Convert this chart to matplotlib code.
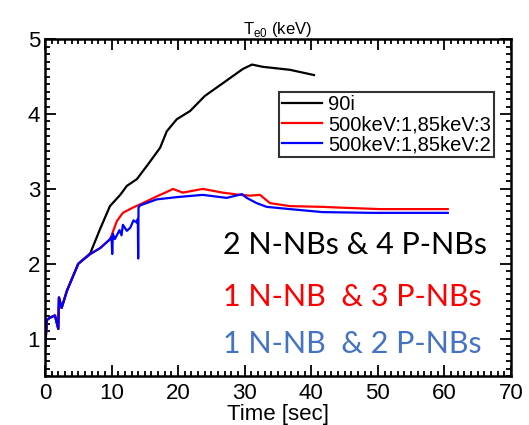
import matplotlib
matplotlib.use('Agg')
from matplotlib import pyplot as plt
from matplotlib.ticker import MultipleLocator
import numpy as np

plt.rcParams['font.family'] = ['Liberation Sans', 'DejaVu Sans']

# 90i (black)
t_black = [0.0, 0.3, 0.75, 1.5, 2.0, 2.1, 2.5, 3.3, 5.0, 6.8, 8.26, 9.76, 11.3, 12.3, 13.8, 15.5,
           17.3, 18.3, 19.8, 21.8, 24.0, 26.7, 29.7, 31.1, 32.7, 36.8, 40.4]
te_black = [0.85, 1.25, 1.28, 1.31, 1.13, 1.55, 1.41, 1.64, 2.0, 2.14, 2.46, 2.77, 2.92, 3.04, 3.13, 3.33,
            3.55, 3.77, 3.93, 4.04, 4.24, 4.41, 4.60, 4.66, 4.63, 4.59, 4.52]

# 500keV:1,85keV:3 (red)
t_red = [0.0, 0.3, 0.75, 1.5, 2.0, 2.1, 2.5, 3.3, 5.0, 6.8, 8.3, 9.8, 10.8, 11.7, 13.2, 14.7, 16.8,
         18.8, 19.2, 20.7, 23.7, 26.7, 29.3, 30.8, 32.3, 33.8, 36.8, 41.7, 44.3, 50.3, 60.5]
te_red = [0.85, 1.25, 1.28, 1.31, 1.13, 1.55, 1.41, 1.64, 2.0, 2.13, 2.21, 2.33, 2.57, 2.68, 2.75, 2.81, 2.90,
          2.98, 3.0, 2.95, 3.0, 2.95, 2.92, 2.91, 2.92, 2.81, 2.77, 2.76, 2.75, 2.73, 2.73]

# 500keV:1,85keV:2 (blue)
t_blue = [0.0, 0.3, 0.75, 1.5, 2.0, 2.1, 2.5, 3.3, 5.0, 6.8, 8.3, 9.8, 10.0, 10.1, 10.2, 10.5, 11.2,
          11.5, 11.7, 12.3, 12.8, 13.3, 13.8, 13.95, 14.0, 14.05, 14.3, 16.8, 19.8, 23.7, 27.3, 29.6,
          30.3, 31.8, 33.3, 36.8, 41.7, 49.2, 60.5]
te_blue = [0.85, 1.25, 1.28, 1.31, 1.13, 1.55, 1.41, 1.64, 2.0, 2.13, 2.21, 2.33, 2.36, 2.13, 2.40, 2.33, 2.45,
           2.38, 2.52, 2.44, 2.48, 2.58, 2.55, 2.6, 2.07, 2.75, 2.78, 2.86, 2.89, 2.92, 2.88, 2.93,
           2.88, 2.81, 2.76, 2.73, 2.69, 2.68, 2.68]

labels = ['90i', '500keV:1,85keV:3', '500keV:1,85keV:2']
notes = ['2 N-NBs & 4 P-NBs', '1 N-NB  & 3 P-NBs', '1 N-NB  & 2 P-NBs']
note_colors = ['black', '#ff0000', '#4472c4']
note_y = [0.389, 0.234, 0.095]

fig = plt.figure(figsize=(5.29, 4.25), dpi=100)
ax = fig.add_axes([0.085, 0.115, 0.881, 0.793])

ax.plot(t_black, te_black, color='black', lw=1.6, label=labels[0])
ax.plot(t_red, te_red, color='#ff0000', lw=1.6, label=labels[1])
ax.plot(t_blue, te_blue, color='#0000ff', lw=1.6, label=labels[2])

ax.set_xlim(0, 70)
ax.set_ylim(0.5, 5)
ax.xaxis.set_major_locator(MultipleLocator(10))
ax.xaxis.set_minor_locator(MultipleLocator(1))
ax.yaxis.set_major_locator(MultipleLocator(1))
ax.yaxis.set_minor_locator(MultipleLocator(0.1))
ax.tick_params(which='both', direction='in', top=True, right=True, labelsize=16, width=1.3)
ax.tick_params(which='major', length=8)
ax.tick_params(axis='x', which='major', pad=5)
ax.tick_params(which='minor', length=3.5)
for s in ax.spines.values():
    s.set_linewidth(1.8)

ax.set_xlabel('Time [sec]', fontsize=16, labelpad=0)
ax.set_title('T$_{\\mathregular{e0}}$ (keV)', fontsize=12, pad=4)

leg = ax.legend(loc='upper right', bbox_to_anchor=(0.9635, 0.843), fontsize=14.5, frameon=True,
                fancybox=False, edgecolor='black', handlelength=2.0, handletextpad=0.3,
                labelspacing=0.05, borderpad=0.15, borderaxespad=0)
leg.get_frame().set_linewidth(1.5)

for i, txt in enumerate(notes):
    ax.text(0.381, note_y[i], txt, color=note_colors[i], fontsize=22,
            family=['Lato', 'DejaVu Sans'], transform=ax.transAxes, va='center', ha='left')

plt.savefig('out.png', dpi=100)
